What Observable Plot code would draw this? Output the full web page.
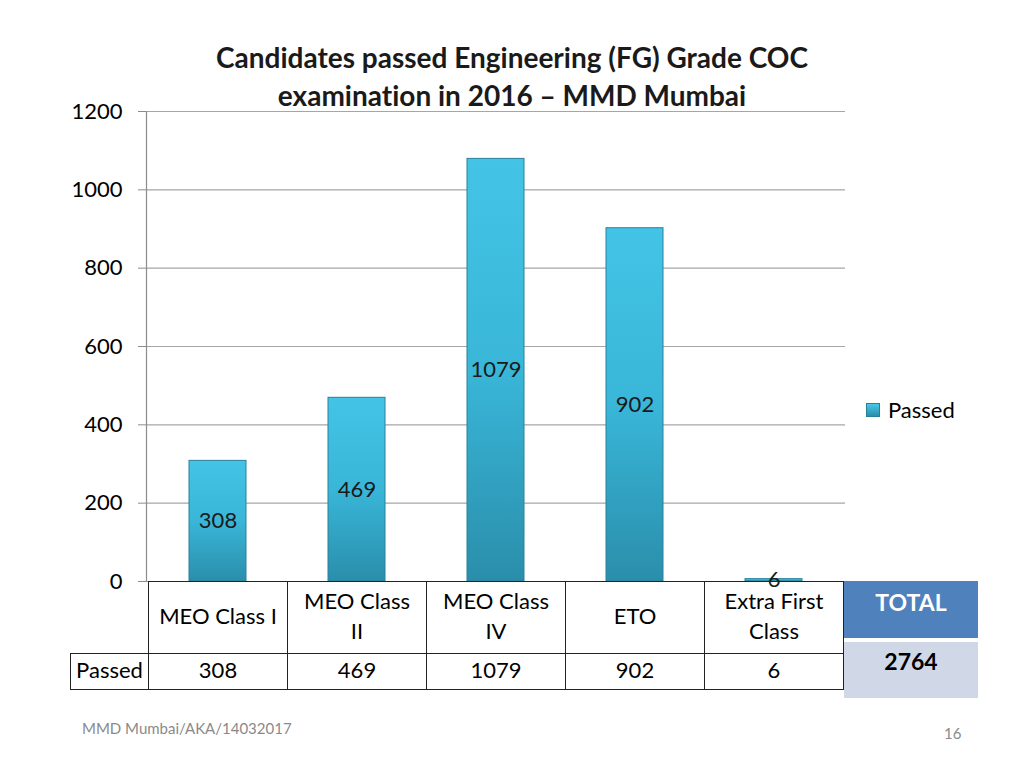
<!DOCTYPE html>
<html>
<head>
<meta charset="utf-8">
<script src="https://cdn.jsdelivr.net/npm/d3@7"></script>
<script src="https://cdn.jsdelivr.net/npm/@observablehq/plot@0.6"></script>
<style>
  html, body { margin: 0; padding: 0; background: #fff; }
  #root { position: relative; width: 1024px; height: 768px; overflow: hidden; font-family: Lato, "Open Sans", sans-serif; color: #000; font-variant-ligatures: none; }
  .abs { position: absolute; box-sizing: border-box; }
  .cell { position: absolute; box-sizing: border-box; display: flex; align-items: center; justify-content: center; text-align: center; font-size: 22px; line-height: 30px; white-space: pre; }
</style>
</head>
<body>
<div id="root">
  <div class="abs" id="title" style="left:0;top:38px;width:1024px;text-align:center;font-weight:bold;font-size:28px;line-height:38px;color:#1a1a1a;">Candidates passed Engineering (FG) Grade COC<br>examination in 2016 – MMD Mumbai</div>
  <div class="abs" id="chart" style="left:0;top:0;"></div>
  <div id="table"></div>
  <div class="abs" id="legend" style="left:866px;top:396px;font-size:22px;line-height:28px;display:flex;align-items:center;">
    <span style="display:inline-block;width:14px;height:14px;background:linear-gradient(180deg,#48c8e8,#2a8eaa);border:1px solid #2a7f98;margin-right:8px;box-sizing:border-box;"></span>Passed
  </div>
  <div class="abs" style="left:82px;top:719px;font-size:15px;color:#8a8a8a;">MMD Mumbai/AKA/14032017</div>
  <div class="abs" style="left:944px;top:724px;font-size:15px;color:#8a8a8a;">16</div>
</div>
<script>
const categories = ["MEO Class I", "MEO Class II", "MEO Class IV", "ETO", "Extra First Class"];
const categoryLabels = ["MEO Class I", "MEO Class\nII", "MEO Class\nIV", "ETO", "Extra First\nClass"];
const passed = [308, 469, 1079, 902, 6];
const yTicks = [0, 200, 400, 600, 800, 1000, 1200];
const seriesName = "Passed";
const totalLabel = "TOTAL";
const totalValue = 2764;

const data = categories.map((c, i) => ({category: c, value: passed[i]}));

const plot = Plot.plot({
  width: 1024,
  height: 700,
  marginTop: 111,
  marginBottom: 119,
  marginLeft: 146,
  marginRight: 179,
  style: {fontFamily: "Lato, 'Open Sans', sans-serif", fontSize: "22px", color: "#000", background: "transparent", overflow: "visible"},
  x: {domain: categories, paddingInner: 0.593, paddingOuter: 0.2965, axis: null},
  y: {domain: [0, 1200], ticks: yTicks},
  marks: [
    Plot.gridY(yTicks, {stroke: "#a6a6a6", strokeOpacity: 1, strokeWidth: 1.2}),
    Plot.frame({anchor: "left", stroke: "#8c8c8c", strokeWidth: 1.2}),
    Plot.axisY(yTicks, {tickSize: 8, tickPadding: 16, stroke: "#8c8c8c", fontSize: 22, label: null, fill: "#000", tickFormat: d => String(d)}),
    Plot.barY(data, {x: "category", y: "value", fill: "url(#barGrad)", stroke: "#2a8199", strokeWidth: 1}),
    Plot.text(data, {x: "category", y: d => d.value / 2, text: d => String(d.value), fontSize: 22, fill: "#1a1a1a"})
  ]
});
document.getElementById("chart").appendChild(plot);

// gradient definition for the bars
const svg = d3.select(plot.tagName.toLowerCase() === "svg" ? plot : plot.querySelector("svg"));
const defs = svg.insert("defs", ":first-child");
const g = defs.append("linearGradient").attr("id", "barGrad").attr("x1", 0).attr("y1", 0).attr("x2", 0).attr("y2", 1);
g.append("stop").attr("offset", "0%").attr("stop-color", "#43c4e6");
g.append("stop").attr("offset", "50%").attr("stop-color", "#39b6d8");
g.append("stop").attr("offset", "100%").attr("stop-color", "#2a8eab");

// data table below the chart, aligned to the band scale
const xs = plot.scale("x");
const ys = plot.scale("y");
const step = xs.step;
const off = (step - xs.bandwidth) / 2;
const top0 = ys.apply(0);
const headH = 72, rowH = 36;
const table = document.getElementById("table");
function cell(left, top, w, h, text, css) {
  const d = document.createElement("div");
  d.className = "cell";
  d.style.left = left + "px"; d.style.top = top + "px";
  d.style.width = w + "px"; d.style.height = h + "px";
  d.textContent = text;
  Object.assign(d.style, css || {});
  table.appendChild(d);
  return d;
}
const firstLeft = xs.apply(categories[0]) - off;
categories.forEach((c, i) => {
  const left = xs.apply(c) - off;
  cell(left, top0, step + 1, headH + 1, categoryLabels[i], {border: "1px solid #222", paddingBottom: "3px"});
  cell(left, top0 + headH, step + 1, rowH + 1, String(passed[i]), {border: "1px solid #222", paddingBottom: "3px"});
});
cell(firstLeft - 78, top0 + headH, 79, rowH + 1, seriesName, {border: "1px solid #222", paddingBottom: "3px"});
const lastRight = xs.apply(categories[categories.length - 1]) - off + step;
cell(lastRight + 1, top0, 134, 57, totalLabel, {background: "#4f81bd", color: "#fff", fontWeight: "bold", fontSize: "23px", alignItems: "flex-start", paddingTop: "6px"});
cell(lastRight + 1, top0 + 61, 134, 56, String(totalValue), {background: "#d0d8e8", color: "#000", fontWeight: "bold", fontSize: "23px", alignItems: "flex-start", paddingTop: "4px"});
</script>
</body>
</html>
